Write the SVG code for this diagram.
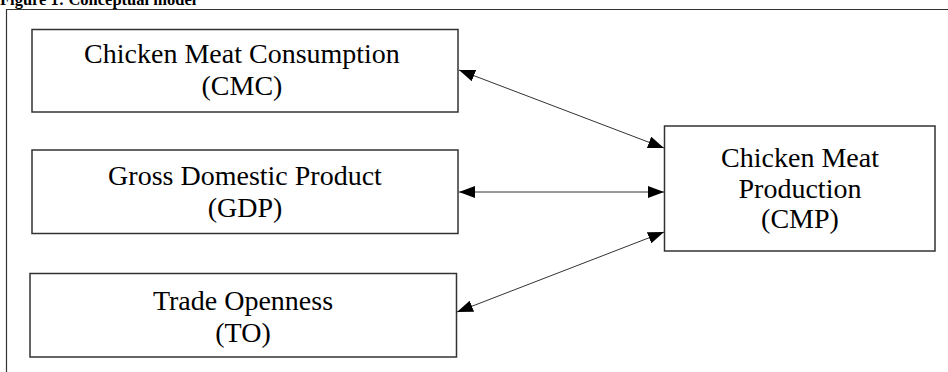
<svg xmlns="http://www.w3.org/2000/svg" width="948" height="372" viewBox="0 0 948 372">
<style>
.box{fill:#fff;stroke:#333;stroke-width:1.5}
.lbl{font-family:"Liberation Serif","Times New Roman",serif;font-size:28px;fill:#000;text-anchor:middle}
.con{stroke:#333;stroke-width:1;fill:none;marker-start:url(#ah);marker-end:url(#ah)}
</style>
<defs>
<marker id="ah" viewBox="0 0 16 12" refX="16" refY="6" markerWidth="16" markerHeight="12" markerUnits="userSpaceOnUse" orient="auto-start-reverse">
<path d="M0,0 L16,6 L0,12 Z" fill="#000"/>
</marker>
</defs>
<rect width="948" height="372" fill="#fff"/>
<text x="0" y="4.5" font-family="Liberation Serif, Times New Roman, serif" font-size="16.5" font-weight="bold">Figure 1: Conceptual model</text>
<path d="M6.5,372 V9.5 H948" fill="none" stroke="#333" stroke-width="1.2"/>
<g id="cmc">
<rect class="box" x="32" y="29.5" width="426" height="82.5"/>
<text class="lbl" x="242" y="63">Chicken Meat Consumption</text>
<text class="lbl" x="242" y="95">(CMC)</text>
</g>
<g id="gdp">
<rect class="box" x="32" y="150" width="426" height="83.5"/>
<text class="lbl" x="245" y="185">Gross Domestic Product</text>
<text class="lbl" x="245" y="217">(GDP)</text>
</g>
<g id="to">
<rect class="box" x="30" y="273.5" width="426.5" height="83.5"/>
<text class="lbl" x="243" y="310">Trade Openness</text>
<text class="lbl" x="243" y="342">(TO)</text>
</g>
<g id="cmp">
<rect class="box" x="664.5" y="126" width="270.5" height="125"/>
<text class="lbl" x="800" y="167">Chicken Meat</text>
<text class="lbl" x="800" y="198">Production</text>
<text class="lbl" x="800" y="228">(CMP)</text>
</g>
<g id="connectors">
<line class="con" x1="459" y1="70" x2="664" y2="148"/>
<line class="con" x1="459" y1="192" x2="664" y2="192"/>
<line class="con" x1="664" y1="232" x2="457" y2="312"/>
</g>
</svg>
